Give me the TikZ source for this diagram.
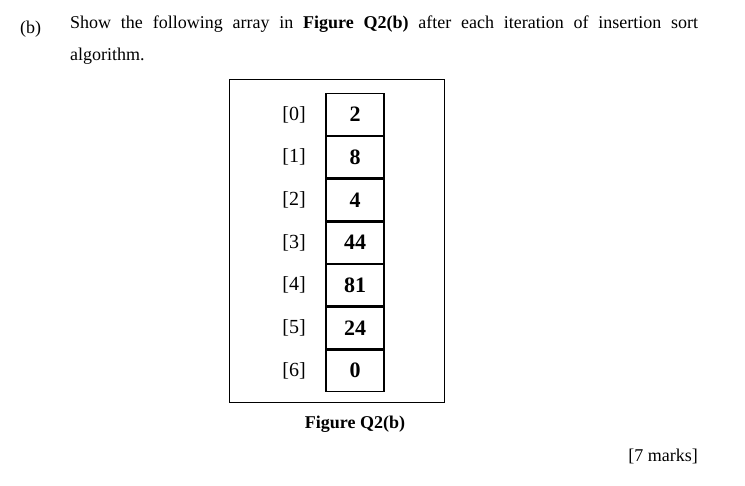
\documentclass[tikz,border=0pt]{standalone}
\usepackage{fontspec}
\setmainfont{Liberation Serif}
\usetikzlibrary{positioning}
\tikzset{
  cell/.style={draw, line width=1.3pt, minimum width=58pt, minimum height=41.4pt, font=\fontsize{22}{24}\selectfont\bfseries},
  idx/.style={font=\fontsize{20}{22}\selectfont},
  body/.style={font=\fontsize{18}{32}\selectfont, inner sep=0pt}
}
\begin{document}
\begin{tikzpicture}[x=1pt,y=-1pt]
  \useasboundingbox (0,0) rectangle (745,486);
  \node[body, anchor=base west] (part) at (20,34) {(b)};
  \node[body, anchor=north west, text width=628pt, align=justify] (question) at (70,16)
    {Show the following array in \textbf{Figure Q2(b)} after each iteration of insertion sort\linebreak algorithm.};
  \draw[line width=0.8pt] (229,79) rectangle (444,402);
  \node[cell] (c0) at (355,114.5) {2};
  \node[cell, below=0pt of c0] (c1) {8};
  \node[cell, below=0pt of c1] (c2) {4};
  \node[cell, below=0pt of c2] (c3) {44};
  \node[cell, below=0pt of c3] (c4) {81};
  \node[cell, below=0pt of c4] (c5) {24};
  \node[cell, below=0pt of c5] (c6) {0};
  \foreach \i in {0,...,6}
    \node[idx, left=16pt of c\i] (i\i) {[\i]};
  \node[body, font=\fontsize{18}{20}\selectfont\bfseries] (caption) at (355,424) {Figure Q2(b)};
  \node[body, anchor=base east] (marks) at (698,462) {[7 marks]};
\end{tikzpicture}
\end{document}
